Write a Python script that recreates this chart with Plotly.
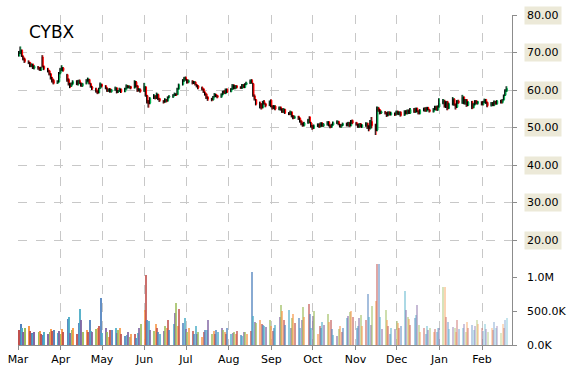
import pandas as pd
import plotly.graph_objects as go

ticker = "CYBX"
dates = pd.bdate_range("2015-03-02", "2016-02-19")

opens = [
    69.2, 69.9, 70.6, 68.9, 68.3,  67.5, 67.3, 66.3, 66.9, 65.8,  66.1, 65.9, 65.3, 68.8, 66.3,
    65.6, 65.1, 64.3, 63.2, 62.6,  61.9, 62.2, 64.6, 65.4, 65.9,  64.1, 62.8, 61.6, 61.1, 61.7,
    62.3, 61.5, 62.5, 61.8, 61.1,  61.8, 62.5, 62.8, 61.7, 60.8,  60.3, 59.7, 59.3, 60.5, 61.5,
    61.1, 60.4, 59.7, 60.3, 59.5,  60.0, 60.5, 59.5, 59.7, 60.2,  59.6, 60.3, 61.1, 60.7, 60.9,
    60.6, 62.1, 61.1, 59.9, 60.1,  59.7, 60.8, 58.5, 57.1, 56.5,  57.9, 58.4, 57.9, 58.8, 57.7,
    57.1, 56.9, 57.4, 57.1, 58.1,  58.2, 58.7, 58.9, 58.8, 60.3,  61.5, 62.5, 63.3, 62.7, 62.1,
    62.4, 61.9, 62.1, 61.4, 61.1,  60.7, 60.3, 59.4, 58.9, 58.1,  57.7, 57.4, 58.3, 58.8, 58.5,
    58.2, 58.8, 59.7, 59.1, 60.2,  59.6, 60.2, 61.3, 60.4, 61.1,  60.8, 60.5, 61.4, 60.7, 61.5,
    61.8, 62.6, 61.7, 58.4, 57.4,  56.1, 56.3, 55.3, 56.9, 56.3,  55.9, 57.3, 55.7, 55.1, 55.7,
    54.8, 55.4, 54.9, 54.1, 54.8,  53.8, 53.5, 54.1, 53.1, 52.5,  53.0, 52.4, 51.7, 51.1, 50.5,
    51.3, 52.8, 51.2, 50.5, 49.8,  50.4, 50.9, 50.3, 51.2, 50.4,  50.8, 51.5, 50.5, 50.2, 50.7,
    51.2, 51.6, 50.8, 50.2, 50.6,  51.1, 50.5, 51.3, 50.5, 51.9,  51.3, 50.9, 50.1, 51.0, 50.2,
    50.5, 51.1, 50.3, 49.7, 51.6,  50.8, 49.3, 55.2, 54.7, 53.9,  54.1, 53.9, 53.3, 54.1, 53.4,
    53.8, 53.5, 54.3, 53.5, 54.1,  53.3, 54.4, 53.7, 54.6, 53.8,  54.9, 54.1, 55.1, 54.3, 53.7,
    54.5, 55.1, 54.4, 55.3, 54.7,  54.2, 54.8, 55.6, 54.7, 55.5,  56.5, 57.1, 55.5, 56.9, 55.1,
    56.2, 57.5, 56.2, 55.4, 57.1,  56.5, 58.1, 56.4, 57.4, 55.9,  56.9, 55.3, 56.1, 57.1, 56.4,
    56.8, 56.1, 56.7, 57.5, 56.7,  55.9, 56.6, 55.9, 57.0, 56.3,  57.2, 56.7, 57.4, 58.6, 59.7,
]
highs = [
    70.4, 71.6, 70.8, 69.2, 68.6,  67.9, 67.5, 67.1, 67.0, 66.6,  66.4, 66.1, 66.2, 69.3, 66.5,
    65.9, 65.3, 64.5, 63.5, 62.9,  62.6, 64.8, 65.9, 66.6, 66.1,  64.3, 63.1, 61.9, 62.0, 62.6,
    62.6, 62.7, 62.8, 62.0, 61.9,  62.9, 63.3, 63.0, 61.9, 61.1,  60.6, 59.9, 60.6, 62.0, 61.7,
    61.3, 60.7, 60.4, 60.5, 60.3,  60.9, 60.7, 60.0, 60.6, 60.4,  60.6, 61.5, 61.3, 61.2, 61.1,
    62.6, 62.4, 61.3, 60.5, 60.4,  61.9, 61.0, 58.7, 57.3, 58.1,  58.9, 58.6, 59.3, 59.0, 57.9,
    57.3, 57.8, 57.6, 58.3, 58.6,  58.9, 59.3, 59.1, 60.6, 61.7,  62.9, 63.5, 63.6, 62.9, 62.8,
    62.6, 62.4, 62.3, 61.6, 61.3,  60.9, 60.4, 59.6, 59.1, 58.3,  57.9, 58.4, 59.2, 59.0, 58.7,
    59.1, 59.8, 59.9, 60.4, 60.4,  60.5, 61.6, 61.5, 61.3, 61.3,  61.0, 61.6, 61.6, 61.8, 62.2,
    62.8, 62.9, 61.9, 58.8, 57.6,  56.9, 56.5, 57.1, 57.3, 56.5,  57.2, 57.5, 55.9, 56.0, 55.9,
    55.6, 55.6, 55.1, 55.2, 55.0,  54.1, 54.5, 54.3, 53.3, 53.2,  53.1, 52.7, 51.9, 51.3, 51.5,
    52.3, 53.0, 51.5, 50.7, 50.8,  51.1, 51.1, 51.4, 51.4, 51.2,  51.7, 51.7, 50.8, 51.0, 51.6,
    51.9, 51.8, 51.0, 50.9, 51.3,  51.3, 51.5, 51.5, 52.0, 52.1,  51.5, 51.0, 51.1, 51.2, 50.9,
    51.4, 51.3, 50.6, 52.0, 52.8,  51.0, 55.6, 55.5, 54.9, 54.5,  54.4, 54.1, 54.3, 54.3, 54.2,
    54.0, 54.5, 54.5, 54.3, 54.3,  54.6, 54.6, 54.8, 54.8, 55.2,  55.2, 55.3, 55.3, 54.6, 54.9,
    55.3, 55.4, 55.5, 55.5, 54.9,  55.2, 55.8, 55.8, 55.9, 57.8,  57.6, 57.4, 57.0, 57.1, 56.6,
    58.1, 57.8, 56.4, 57.3, 57.4,  58.7, 58.3, 57.6, 57.6, 57.0,  57.1, 56.5, 57.3, 57.3, 57.1,
    57.0, 57.1, 57.7, 57.6, 56.9,  56.8, 56.8, 57.2, 57.1, 57.3,  57.4, 57.6, 58.8, 60.2, 61.0,
]
lows = [
    68.9, 69.6, 68.8, 67.9, 67.2,  66.9, 66.1, 66.1, 65.6, 65.5,  65.4, 65.1, 65.1, 66.0, 65.3,
    64.7, 63.9, 62.8, 62.0, 61.5,  61.6, 62.0, 64.2, 65.1, 64.9,  62.2, 61.2, 60.5, 60.8, 61.4,
    61.3, 61.2, 61.6, 60.9, 60.8,  61.5, 62.2, 61.5, 60.6, 60.0,  59.3, 58.9, 59.1, 60.3, 60.7,
    60.2, 59.5, 59.5, 59.3, 59.3,  59.8, 59.1, 59.2, 59.5, 59.2,  59.4, 60.1, 60.5, 60.4, 60.2,
    60.4, 60.7, 59.5, 59.6, 59.3,  59.5, 58.2, 56.4, 55.3, 56.2,  57.6, 57.5, 57.6, 57.3, 56.8,
    56.4, 56.6, 56.7, 56.9, 57.8,  57.9, 58.4, 58.4, 58.6, 60.1,  61.2, 62.2, 62.5, 61.7, 61.8,
    61.5, 61.6, 61.2, 60.7, 60.2,  59.9, 59.2, 58.5, 57.6, 57.1,  57.0, 57.2, 58.0, 58.1, 57.8,
    57.9, 58.6, 59.0, 58.9, 59.2,  59.4, 60.0, 60.2, 60.2, 60.4,  60.3, 60.3, 60.5, 60.5, 61.3,
    61.6, 61.7, 58.2, 57.2, 55.9,  55.1, 54.8, 55.1, 56.1, 55.4,  55.7, 55.4, 54.8, 54.9, 54.6,
    54.6, 54.5, 53.9, 53.9, 53.6,  53.3, 53.3, 52.7, 52.2, 52.3,  52.0, 51.3, 50.6, 50.2, 50.3,
    51.0, 51.1, 50.0, 49.4, 49.6,  50.1, 49.9, 50.0, 50.2, 50.1,  50.5, 50.3, 49.8, 49.9, 50.5,
    50.9, 50.6, 50.0, 49.9, 50.4,  50.3, 50.3, 50.1, 50.3, 50.9,  50.5, 49.9, 49.9, 50.0, 49.9,
    50.2, 49.6, 49.0, 49.5, 49.8,  48.0, 49.0, 54.2, 53.5, 53.6,  53.5, 52.8, 53.0, 53.2, 53.2,
    53.1, 53.2, 53.4, 53.3, 52.9,  53.1, 53.5, 53.5, 53.6, 53.6,  53.9, 53.9, 54.1, 53.5, 53.5,
    54.3, 54.2, 54.2, 54.6, 54.0,  54.0, 54.6, 54.5, 54.4, 55.3,  56.2, 55.3, 55.2, 54.6, 54.9,
    55.9, 55.8, 54.8, 55.2, 56.3,  56.3, 56.2, 56.1, 55.5, 55.7,  54.9, 55.1, 55.9, 56.2, 56.1,
    55.9, 55.9, 56.5, 56.3, 55.4,  55.6, 55.7, 55.7, 56.1, 56.1,  56.4, 56.4, 57.2, 58.4, 59.5,
]
closes = [
    69.8, 70.5, 69.0, 68.2, 67.6,  67.2, 66.4, 66.8, 65.9, 66.3,  65.8, 65.4, 65.9, 66.2, 65.7,
    65.0, 64.2, 63.1, 62.4, 61.8,  62.3, 64.5, 65.6, 66.0, 65.2,  62.6, 61.5, 61.0, 61.8, 62.2,
    61.6, 62.4, 61.9, 61.2, 61.7,  62.6, 62.9, 61.8, 60.9, 60.4,  59.6, 59.2, 60.4, 61.6, 61.0,
    60.5, 59.8, 60.2, 59.6, 60.1,  60.6, 59.4, 59.8, 60.3, 59.5,  60.4, 61.2, 60.8, 61.0, 60.5,
    62.3, 61.0, 59.8, 60.2, 59.6,  61.0, 58.6, 57.0, 56.4, 57.8,  58.5, 57.8, 58.9, 57.6, 57.2,
    56.8, 57.5, 57.0, 58.0, 58.3,  58.6, 59.0, 58.7, 60.4, 61.4,  62.6, 63.2, 62.8, 62.0, 62.5,
    61.8, 62.2, 61.5, 61.0, 60.6,  60.2, 59.5, 58.8, 58.0, 57.6,  57.5, 58.2, 58.9, 58.4, 58.1,
    58.9, 59.6, 59.2, 60.1, 59.5,  60.3, 61.2, 60.5, 61.0, 60.7,  60.6, 61.3, 60.8, 61.6, 61.9,
    62.5, 61.9, 58.6, 57.6, 56.2,  56.0, 55.2, 56.8, 56.4, 55.8,  56.9, 55.6, 55.2, 55.8, 54.9,
    55.3, 54.8, 54.2, 54.9, 53.9,  53.6, 54.2, 53.0, 52.6, 52.9,  52.3, 51.6, 51.0, 50.6, 51.2,
    52.0, 51.3, 50.4, 49.9, 50.5,  50.8, 50.2, 51.1, 50.5, 50.9,  51.4, 50.6, 50.1, 50.8, 51.3,
    51.5, 50.9, 50.3, 50.7, 51.0,  50.6, 51.2, 50.4, 51.8, 51.2,  50.8, 50.2, 50.9, 50.3, 50.6,
    51.0, 50.2, 49.8, 51.3, 50.5,  49.2, 55.0, 54.6, 53.8, 54.2,  53.8, 53.2, 54.0, 53.5, 53.9,
    53.4, 54.2, 53.6, 54.0, 53.2,  54.3, 53.8, 54.5, 53.9, 54.8,  54.2, 55.0, 54.4, 53.8, 54.6,
    55.0, 54.5, 55.2, 54.8, 54.3,  54.9, 55.5, 54.8, 55.6, 56.4,  57.2, 55.6, 56.8, 55.2, 56.3,
    57.4, 56.1, 55.5, 57.0, 56.6,  58.0, 56.5, 57.3, 56.0, 56.8,  55.4, 56.2, 57.0, 56.5, 56.9,
    56.2, 56.8, 57.4, 56.6, 55.8,  56.5, 56.0, 56.9, 56.4, 57.1,  56.8, 57.3, 58.5, 59.8, 60.4,
]
volumes_k = [
    230, 310, 250, 190, 260,  280, 210, 180, 170, 200,  190, 210, 170, 150, 200,
    170, 200, 240, 210, 230,  180, 210, 170, 240, 200,  390, 420, 180, 230, 260,
    170, 330, 540, 370, 190,  230, 200, 380, 210, 200,  240, 260, 290, 700, 180,
    260, 200, 120, 230, 230,  250, 180, 220, 250, 160,  130, 150, 190, 120, 160,
    170, 110, 180, 260, 320,  520, 1040, 370, 360, 230,  210, 310, 260, 200, 170,
    210, 280, 250, 380, 220,  310, 480, 620, 290, 540,  330, 410, 240, 200, 260,
    210, 170, 280, 160, 190,  120, 200, 230, 220, 370,  170, 210, 160, 230, 190,
    260, 230, 200, 160, 260,  170, 180, 200, 170, 210,  150, 140, 190, 200, 160,
    210, 1090, 430, 350, 330,  370, 320, 300, 290, 270,  380, 290, 210, 250, 300,
    420, 600, 510, 380, 300,  520, 260, 400, 470, 330,  410, 260, 370, 560, 420,
    610, 470, 260, 430, 510,  170, 280, 260, 340, 300,  460, 350, 380, 240, 150,
    140, 240, 290, 200, 260,  400, 440, 490, 510, 420,  260, 280, 400, 450, 280,
    380, 760, 420, 300, 580,  660, 1210, 1210, 420, 240,  520, 380, 290, 170, 250,
    240, 360, 330, 250, 280,  800, 520, 420, 390, 300,  400, 450, 600, 300, 200,
    250, 170, 280, 230, 260,  200, 240, 190, 250, 260,  870, 860, 420, 340, 240,
    270, 250, 200, 380, 240,  250, 310, 200, 340, 260,  300, 220, 280, 380, 310,
    260, 210, 320, 240, 200,  250, 220, 340, 260, 290,  180, 320, 260, 380, 400,
]
price_ticks = [20, 30, 40, 50, 60, 70, 80]
volume_ticks = [0, 500000, 1000000]
volume_tick_labels = ["0.0K", "500.0K", "1.0M"]

n = len(dates)
assert len(opens) == len(highs) == len(lows) == len(closes) == len(volumes_k) == n

palette = ["#C0504D", "#4F81BD", "#4BACC6", "#8064A2", "#9BBB59", "#F79646"]
bar_colors = [palette[i % len(palette)] for i in range(n)]
bar_opac = [1.0 - 0.68 * i / (n - 1) for i in range(n)]
volumes = [v * 1000 for v in volumes_k]

# black wicks drawn just left of the coloured bodies
wick_shift = pd.Timedelta(hours=14)
wx, wy = [], []
for d, h, l in zip(dates, highs, lows):
    wx += [d - wick_shift, d - wick_shift, None]
    wy += [h, l, None]

fig = go.Figure()
fig.add_trace(go.Bar(
    x=dates, y=volumes, yaxis="y2",
    marker=dict(color=bar_colors, opacity=bar_opac, line=dict(width=0)),
    width=86400000 * 0.8, showlegend=False, hoverinfo="skip",
))
fig.add_trace(go.Candlestick(
    x=dates, open=opens, high=highs, low=lows, close=closes,
    increasing=dict(line=dict(color="#00B050", width=1), fillcolor="#00B050"),
    decreasing=dict(line=dict(color="#FF0000", width=1), fillcolor="#FF0000"),
    whiskerwidth=0, showlegend=False,
))
fig.add_trace(go.Scatter(
    x=wx, y=wy, mode="lines", line=dict(color="#000000", width=1),
    showlegend=False, hoverinfo="skip",
))

font = "DejaVu Sans"
annotations = []
for t in price_ticks:
    annotations.append(dict(
        x=1.0243, xref="paper", y=t, yref="y", text=f"{t:.2f}", showarrow=False,
        xanchor="left", yanchor="middle", bgcolor="#ECE9D8", borderpad=2,
        font=dict(family=font, size=11, color="#000000"),
    ))
for t, lab in zip(volume_ticks, volume_tick_labels):
    annotations.append(dict(
        x=1.0243, xref="paper", y=t, yref="y2", text=lab, showarrow=False,
        xanchor="left", yanchor="middle", borderpad=2,
        font=dict(family=font, size=11, color="#000000"),
    ))
annotations.append(dict(
    x=0.0182, xref="paper", y=0.947, yref="paper", text=ticker, showarrow=False,
    xanchor="left", yanchor="middle", font=dict(family=font, size=17, color="#000000"),
))

fig.update_layout(
    width=570, height=370,
    margin=dict(l=18, r=58, t=15, b=25),
    paper_bgcolor="white", plot_bgcolor="white",
    font=dict(family=font, size=11, color="#000000"),
    bargap=0, boxgap=0,
    annotations=annotations,
    xaxis=dict(
        type="date", range=["2015-03-01", "2016-02-22 17:00"],
        tick0="2015-03-01", dtick="M1", tickformat="%b",
        showgrid=True, gridcolor="#C8C8C8", griddash="dash", gridwidth=1,
        showline=True, linecolor="#8C8C8C", linewidth=1,
        ticks="outside", ticklen=4, tickcolor="#8C8C8C",
        rangeslider=dict(visible=False), zeroline=False,
        tickfont=dict(family=font, size=11), automargin=False,
        ticklabeloverflow="allow",
    ),
    yaxis=dict(
        side="right", range=[-8, 80], tickvals=price_ticks, showticklabels=False,
        showgrid=True, gridcolor="#C8C8C8", griddash="dash", gridwidth=1,
        showline=True, linecolor="#8C8C8C", linewidth=1,
        ticks="outside", ticklen=4, tickcolor="#8C8C8C", zeroline=False,
        automargin=False,
    ),
    yaxis2=dict(
        side="right", overlaying="y", range=[0, 4.925e6], tickvals=volume_ticks,
        showticklabels=False, showgrid=False, zeroline=False,
        ticks="outside", ticklen=4, tickcolor="#8C8C8C", automargin=False,
    ),
)

# remove the default 8px page margin so the 570x370 figure fills the window exactly
fig.write_html(
    "out.html",
    config={"displayModeBar": False},
    post_script="document.body.style.margin='0';",
)
